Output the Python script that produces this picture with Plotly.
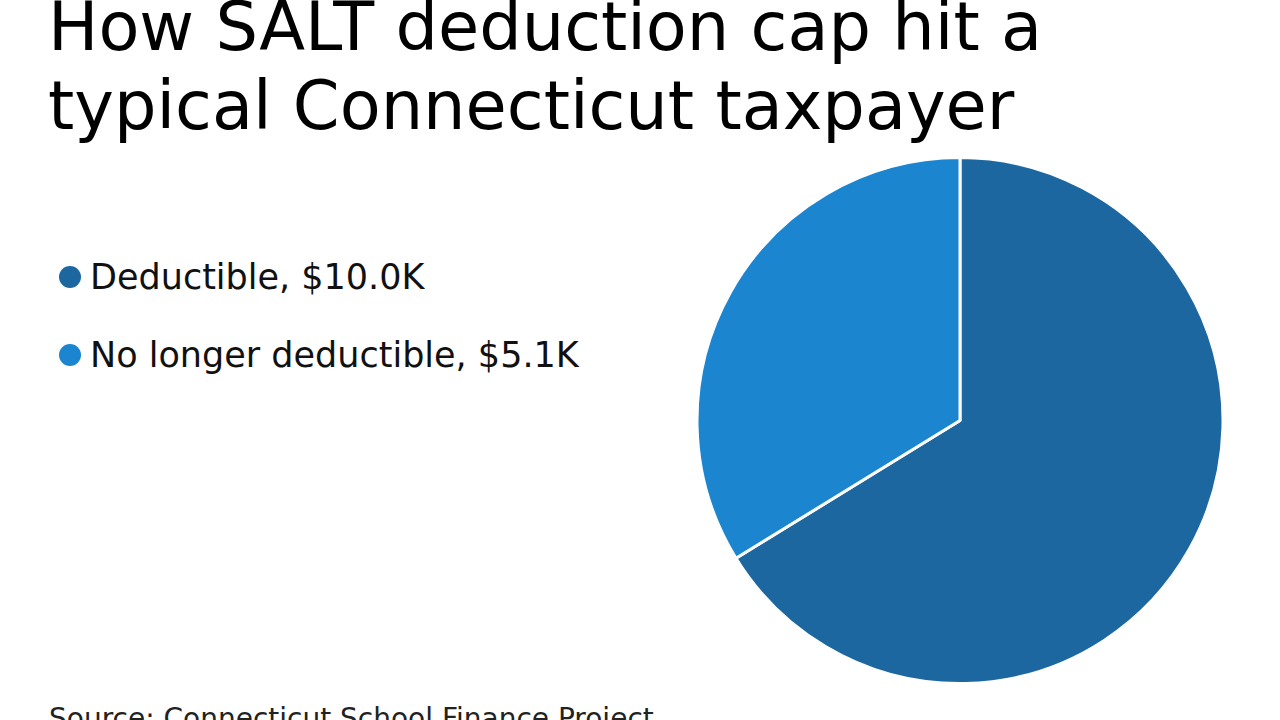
import plotly.graph_objects as go

labels = ["Deductible", "No longer deductible"]
values = [10.0, 5.1]
value_labels = ["$10.0K", "$5.1K"]
colors = ["#1d67a1", "#1c85d0"]

title_lines = ["How SALT deduction cap hit a", "typical Connecticut taxpayer"]
source = "Source: Connecticut School Finance Project"

W, H = 1280, 720
FONT = "DejaVu Sans"


def px(x):
    return x / W


def py(y):
    return 1 - y / H


fig = go.Figure()
fig.add_trace(go.Pie(
    labels=labels, values=values, sort=False, direction="clockwise", rotation=0,
    marker=dict(colors=colors, line=dict(color="white", width=3)),
    textinfo="none", showlegend=False,
    domain=dict(x=[px(697), px(1223)], y=[py(684), py(157)]),
))

annotations = []
shapes = []
for i, line in enumerate(title_lines):
    annotations.append(dict(
        text=line, x=px(47), y=py(-13 + i * 79), xref="paper", yref="paper",
        xanchor="left", yanchor="top", showarrow=False, borderpad=0,
        font=dict(family=FONT, size=67, color="#000000"),
    ))
for i, (lab, vl, c) in enumerate(zip(labels, value_labels, colors)):
    yc = 277 + i * 78
    shapes.append(dict(type="circle", xref="paper", yref="paper",
                       x0=px(59), x1=px(81), y0=py(yc + 11), y1=py(yc - 11),
                       fillcolor=c, line=dict(width=0)))
    annotations.append(dict(
        text=f"{lab}, {vl}", x=px(88), y=py(yc), xref="paper", yref="paper",
        xanchor="left", yanchor="middle", showarrow=False,
        font=dict(family=FONT, size=35, color="#111111"),
    ))
annotations.append(dict(
    text=source, x=px(47), y=py(700), xref="paper", yref="paper",
    xanchor="left", yanchor="top", showarrow=False,
    font=dict(family=FONT, size=28, color="#222222"),
))

fig.update_layout(
    width=W, height=H, margin=dict(l=0, r=0, t=0, b=0),
    paper_bgcolor="white", plot_bgcolor="white",
    annotations=annotations, shapes=shapes,
)
fig.write_html("out.html", config={"displayModeBar": False},
               post_script="document.body.style.margin='0';document.body.style.overflow='hidden';")
